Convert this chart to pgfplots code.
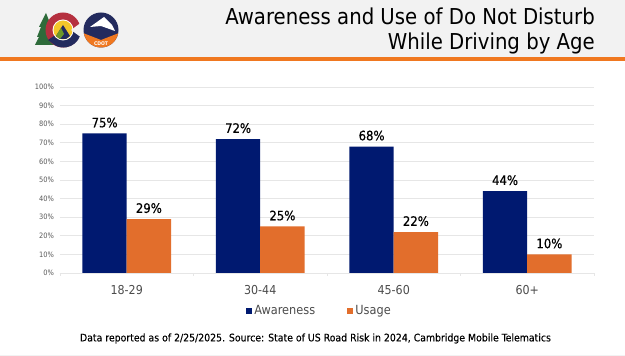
\documentclass[border=0pt]{standalone}
\usepackage{pgfplots}
\usepackage{fontspec}
\setmainfont{DejaVu Sans Condensed}
\newfontfamily\semibold[FakeBold=0.6]{DejaVu Sans Condensed}
\newfontfamily\slightbold[FakeBold=0.25]{DejaVu Sans Condensed}
\pgfplotsset{compat=1.18}
\definecolor{navy}{HTML}{001970}
\definecolor{orng}{HTML}{E26E2C}
\definecolor{hline}{HTML}{F07820}
\definecolor{hbg}{HTML}{F2F2F2}
\definecolor{gridc}{HTML}{E6E6E6}
\definecolor{treeg}{HTML}{2E6B3A}
\definecolor{cred}{HTML}{B5303F}
\definecolor{cnavy}{HTML}{232B5E}
\definecolor{cyel}{HTML}{F4C72A}
\pgfplotstableread{
x aware usage
0 75 29
1 72 25
2 68 22
3 44 10
}\datatable
\begin{document}
\begin{tikzpicture}[x=1pt,y=1pt]
\path[use as bounding box] (0,0) rectangle (625,356);
\fill[white] (0,0) rectangle (625,356);
\fill[hbg] (0,299) rectangle (625,356);
\fill[hline] (0,295) rectangle (625,299);
\fill[hbg] (0,0) rectangle (625,1);
% logo
\fill[treeg] (46,343) -- (52,328) -- (50,328) -- (53,318) -- (51,318) -- (56,311) -- (35,311) -- (39,319) -- (37,319) -- (41,329) -- (39,329) -- cycle;
\fill[cred] (63,326) circle (17.5);
\fill[cnavy] (48,316) -- (63,326) -- (80,326) -- (80,320) arc (-20:-120:17.5) -- cycle;
\fill[white] (63,326) circle (10.5);
\fill[cyel] (63,326) circle (9.5);
\fill[hbg] (71,326) -- (82,334) -- (82,318) -- cycle;
\fill[cnavy] (56,320) -- (63,331) -- (70,320) -- (66,317) -- (60,317) -- cycle;
\fill[treeg!70!yellow] (56,320) -- (61,328) -- (64,322) -- (60,317) -- cycle;
\fill[cnavy] (101,326) circle (17.5);
\begin{scope}
\clip (101,326) circle (17.5);
\fill[hline] (83,323) -- (101,316) -- (119,323) -- (119,305) -- (83,305) -- cycle;
\fill[white] (90,329) -- (104,339) -- (112,331) -- (115,325) -- (101,330) -- cycle;
\end{scope}
\node[text=white,font=\fontsize{5}{5}\selectfont\bfseries] at (101,312) {CDOT};
% title
\node[anchor=north east,align=right,font=\fontsize{21.9}{24.5}\selectfont,inner sep=0pt] at (595,348) {Awareness and Use of Do Not Disturb\\While Driving by Age};
\begin{axis}[
  at={(60pt,83pt)}, anchor=south west,
  scale only axis, width=534pt, height=186pt,
  ymin=0, ymax=100, xmin=-0.5, xmax=3.5,
  ytick={0,10,...,100},
  yticklabel={\pgfmathprintnumber{\tick}\%},
  yticklabel style={font=\fontsize{7.4}{8}\selectfont,text=black!65,xshift=-2.5pt},
  /pgf/number format/assume math mode=true,
  xtick={0,1,2,3},
  xticklabels={18-29,30-44,45-60,60+},
  xticklabel style={font=\fontsize{12.3}{14}\selectfont,text=black!70,yshift=-9pt},
  minor xtick={-0.5,0.5,1.5,2.5,3.5},
  major tick length=0pt,
  minor tick length=3pt,
  tick style={gridc},
  tick align=outside,
  axis x line=bottom, axis y line=left,
  axis line style={gridc,-},
  y axis line style={draw=none},
  ymajorgrids, grid style={gridc,line width=0.7pt},
  ybar=0pt, bar width=44.3pt,
  nodes near coords={\pgfmathprintnumber{\pgfplotspointmeta}\%},
  nodes near coords style={font=\fontsize{13}{14}\selectfont\semibold,text=black,yshift=2.5pt},
  point meta=explicit,
  legend style={at={(0.3425,-0.2045)},anchor=west,draw=none,fill=none,legend columns=2,
    font=\fontsize{12.6}{14}\selectfont,text=black!70,
    /tikz/every even column/.append style={column sep=30pt}},
  legend cell align=left,
  legend image code/.code={\fill[#1] (0cm,-0.1cm) rectangle (0.22cm,0.12cm);},
]
\addplot[fill=navy,draw=none] table[x=x,y=aware,meta=aware] {\datatable};
\addlegendentry{Awareness}
\addplot[fill=orng,draw=none] table[x=x,y=usage,meta=usage] {\datatable};
\addlegendentry{Usage}
\end{axis}
\node[font=\fontsize{10.4}{12}\selectfont\slightbold,text=black] at (315.5,17.5) {Data reported as of 2/25/2025. Source: State of US Road Risk in 2024, Cambridge Mobile Telematics};
\end{tikzpicture}
\end{document}
